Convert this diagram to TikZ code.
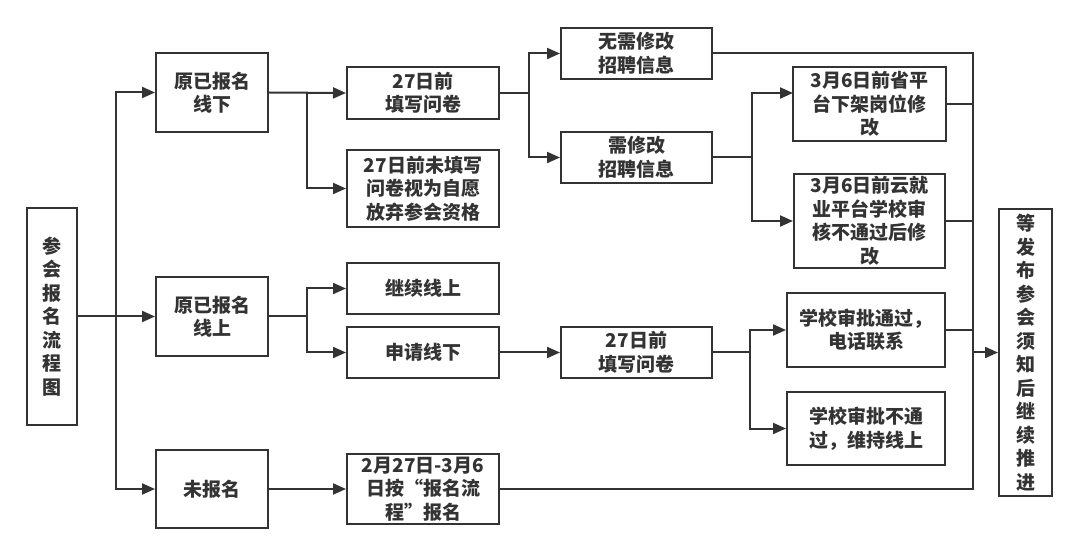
\documentclass[tikz,border=0pt]{standalone}
\usepackage{fontspec}
\newfontfamily\cjk{Noto Sans CJK SC}
\usetikzlibrary{arrows.meta}
\definecolor{lc}{HTML}{333333}
\tikzset{
  box/.style={draw=lc, line width=2pt, fill=white, align=center, inner sep=0pt,
    text=lc, font=\cjk\bfseries\fontsize{19}{23.5}\selectfont},
  conn/.style={draw=lc, line width=2pt},
  arr/.style={conn, -{Triangle[length=13pt,width=11pt]}}
}
\begin{document}
\begin{tikzpicture}[x=1pt,y=-1pt]
\useasboundingbox (0,0) rectangle (1080,556);
% nodes
\node[box, minimum width=50pt, minimum height=217pt] (start) at (52,316.5) {参\\会\\报\\名\\流\\程\\图};
\node[box, minimum width=112pt, minimum height=79pt] (A1) at (212,92.5) {原已报名\\线下};
\node[box, minimum width=112pt, minimum height=79pt] (A2) at (212,316.5) {原已报名\\线上};
\node[box, minimum width=112pt, minimum height=78pt] (A3) at (212,489) {未报名};
\node[box, minimum width=152pt, minimum height=52pt] (B1) at (423,93) {27日前\\填写问卷};
\node[box, minimum width=152pt, minimum height=77pt] (B2) at (423,188.5) {27日前未填写\\问卷视为自愿\\放弃参会资格};
\node[box, minimum width=152pt, minimum height=51pt] (B3) at (423,288.5) {继续线上};
\node[box, minimum width=152pt, minimum height=51pt] (B4) at (423,352.5) {申请线下};
\node[box, minimum width=152pt, minimum height=70pt] (B5) at (423,489) {2月27日-3月6\\日按“报名流\\程”报名};
\node[box, minimum width=151pt, minimum height=51pt] (C1) at (636.5,53.5) {无需修改\\招聘信息};
\node[box, minimum width=151pt, minimum height=51pt] (C2) at (636.5,157.5) {需修改\\招聘信息};
\node[box, minimum width=151pt, minimum height=51pt] (C3) at (636.5,352.5) {27日前\\填写问卷};
\node[box, minimum width=153pt, minimum height=74pt] (D1) at (869.5,104) {3月6日前省平\\台下架岗位修\\改};
\node[box, minimum width=151pt, minimum height=94pt] (D2) at (869.5,221) {3月6日前云就\\业平台学校审\\核不通过后修\\改};
\node[box, minimum width=158pt, minimum height=74pt] (D3) at (866,330) {学校审批通过，\\电话联系};
\node[box, minimum width=158pt, minimum height=73pt] (D4) at (866,428.5) {学校审批不通\\过，维持线上};
\node[box, minimum width=53pt, minimum height=287pt] (E) at (1025.5,352.5) {等\\发\\布\\参\\会\\须\\知\\后\\继\\续\\推\\进};
% junctions
\coordinate (j0) at (116,316.5);
\coordinate (j1) at (307,92.5);
\coordinate (j2) at (307,316.5);
\coordinate (j3) at (529,93);
\coordinate (j4) at (752,157.5);
\coordinate (d1in) at (793,93);
\coordinate (j5) at (750,352.5);
\coordinate (rt) at (973,53.5);
\coordinate (rb) at (973,489);
\coordinate (rm) at (973,352.5);
% connectors
\draw[arr] (start.east) -- (A2.west);
\draw[arr] (j0) |- (A1.west);
\draw[arr] (j0) |- (A3.west);
\draw[arr] (A1.east) -- (B1.west);
\draw[arr] (j1) |- (B2.west);
\draw[arr] (A2.east) -- (j2) |- (B3.west);
\draw[arr] (j2) |- (B4.west);
\draw[arr] (A3.east) -- (B5.west);
\draw[arr] (B1.east) -- (j3) |- (C1.west);
\draw[arr] (j3) |- (C2.west);
\draw[arr] (B4.east) -- (C3.west);
\draw[arr] (C2.east) -- (j4) |- (d1in);
\draw[arr] (j4) |- (D2.west);
\draw[arr] (C3.east) -- (j5) |- (D3.west);
\draw[arr] (j5) |- (D4.west);
\draw[conn] (C1.east) -- (rt) -- (rb) -- (B5.east);
\draw[conn] (D1.east) -- (D1.east -| rt);
\draw[conn] (D2.east) -- (D2.east -| rt);
\draw[conn] (D3.east) -- (D3.east -| rt);
\draw[arr] (rm) -- (E.west);
\end{tikzpicture}
\end{document}
